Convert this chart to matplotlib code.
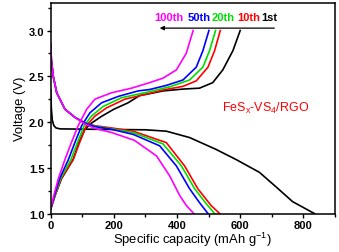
import matplotlib
matplotlib.use("Agg")
import matplotlib.pyplot as plt
from matplotlib.ticker import MultipleLocator

plt.rcParams["font.family"] = ["Liberation Sans", "DejaVu Sans"]
plt.rcParams["mathtext.fontset"] = "custom"
plt.rcParams["mathtext.rm"] = "Liberation Sans"

# ── data ─────────────────────────────────────────────────────────────────────
# discharge branches
dis_1st_x   = [0, 2, 5, 10, 17, 30, 156, 300, 366, 440, 524, 587, 661, 714, 766, 835]
dis_1st_v   = [2.35, 2.15, 2.02, 1.96, 1.935, 1.925, 1.92, 1.915, 1.90, 1.83, 1.70, 1.59, 1.45, 1.29, 1.13, 1.0]
dis_10_x    = [0, 2, 8, 19, 45, 77, 108, 140, 193, 261, 366, 424, 466, 508, 535]
dis_10_v    = [2.85, 2.68, 2.5, 2.32, 2.14, 2.05, 1.99, 1.96, 1.935, 1.90, 1.775, 1.52, 1.27, 1.087, 1.0]
dis_20_x    = [0, 2, 8, 19, 45, 77, 108, 140, 193, 261, 356, 414, 456, 493, 519]
dis_20_v    = [2.85, 2.68, 2.5, 2.32, 2.14, 2.05, 1.99, 1.955, 1.925, 1.885, 1.76, 1.52, 1.27, 1.105, 1.0]
dis_50_x    = [0, 2, 8, 19, 45, 77, 108, 140, 193, 261, 345, 398, 440, 471, 498]
dis_50_v    = [2.85, 2.68, 2.5, 2.32, 2.14, 2.05, 1.99, 1.95, 1.92, 1.865, 1.74, 1.52, 1.27, 1.12, 1.0]
dis_100_x   = [0, 2, 8, 19, 45, 77, 108, 140, 193, 265, 335, 377, 408, 429, 453]
dis_100_v   = [2.85, 2.68, 2.5, 2.32, 2.14, 2.05, 1.98, 1.93, 1.885, 1.80, 1.63, 1.41, 1.20, 1.09, 1.0]

# charge branches
chg_1st_x   = [0, 14, 34, 71, 90, 108, 130, 160, 200, 245, 282, 313, 356, 419, 471, 513, 545, 577, 600]
chg_1st_v   = [1.05, 1.2, 1.38, 1.59, 1.78, 1.92, 1.99, 2.06, 2.14, 2.21, 2.29, 2.31, 2.34, 2.36, 2.37, 2.43, 2.57, 2.78, 3.0]
chg_10_x    = [0, 14, 33, 71, 92, 113, 140, 177, 235, 298, 356, 419, 461, 498, 519, 537]
chg_10_v    = [1.05, 1.2, 1.38, 1.59, 1.78, 1.96, 2.065, 2.155, 2.25, 2.30, 2.35, 2.39, 2.45, 2.60, 2.78, 3.0]
chg_20_x    = [0, 13, 31, 64, 85, 106, 129, 166, 224, 298, 377, 440, 482, 503, 522]
chg_20_v    = [1.05, 1.2, 1.38, 1.59, 1.78, 1.96, 2.065, 2.17, 2.265, 2.32, 2.385, 2.46, 2.60, 2.78, 3.0]
chg_50_x    = [0, 12, 28, 56, 77, 98, 124, 161, 214, 277, 313, 366, 419, 461, 482, 501]
chg_50_v    = [1.05, 1.2, 1.38, 1.59, 1.78, 1.96, 2.10, 2.21, 2.28, 2.34, 2.355, 2.40, 2.46, 2.60, 2.78, 3.0]
chg_100_x   = [0, 10, 24, 45, 66, 87, 114, 140, 193, 256, 313, 356, 398, 429, 451]
chg_100_v   = [1.05, 1.2, 1.38, 1.59, 1.78, 1.96, 2.14, 2.25, 2.32, 2.37, 2.43, 2.48, 2.57, 2.75, 3.0]

cycle_labels = ["100th", "50th", "20th", "10th", "1st"]
cycle_colors = ["#ff00ff", "#0000ff", "#00dd00", "#ff0000", "#000000"]
label_x      = [329, 433, 508, 590, 668]

# ── plot ─────────────────────────────────────────────────────────────────────
fig = plt.figure(figsize=(3.39, 2.53), dpi=100)
ax = fig.add_axes([0.1496, 0.152, 0.8384, 0.832])

curves = [
    (dis_1st_x, dis_1st_v, chg_1st_x, chg_1st_v, "#000000"),
    (dis_10_x, dis_10_v, chg_10_x, chg_10_v, "#ff0000"),
    (dis_20_x, dis_20_v, chg_20_x, chg_20_v, "#00dd00"),
    (dis_50_x, dis_50_v, chg_50_x, chg_50_v, "#0000ff"),
    (dis_100_x, dis_100_v, chg_100_x, chg_100_v, "#ff00ff"),
]
for dx, dv, cx, cv, col in curves:
    ax.plot(dx, dv, color=col, lw=1.2, solid_joinstyle="round")
    ax.plot(cx, cv, color=col, lw=1.2, solid_joinstyle="round")

ax.set_xlim(0, 900)
ax.set_ylim(1.0, 3.3)
ax.xaxis.set_major_locator(MultipleLocator(200))
ax.xaxis.set_minor_locator(MultipleLocator(100))
ax.yaxis.set_major_locator(MultipleLocator(0.5))
ax.yaxis.set_minor_locator(MultipleLocator(0.25))
ax.tick_params(which="both", direction="out", top=False, right=False,
               labelsize=8, pad=1.5)
ax.tick_params(which="major", length=3, width=1.0)
ax.tick_params(which="minor", length=2, width=1.0)
for lab in ax.get_xticklabels() + ax.get_yticklabels():
    lab.set_fontweight("bold")
ax.yaxis.set_major_formatter(matplotlib.ticker.FormatStrFormatter("%.1f"))
for sp in ax.spines.values():
    sp.set_linewidth(1.1)

ax.set_xlabel("Specific capacity (mAh g$^{\\mathregular{-1}}$)", fontsize=9.4, labelpad=0)
ax.set_ylabel("Voltage (V)", fontsize=9.4, labelpad=2)

for txt, col, lx in zip(cycle_labels, cycle_colors, label_x):
    ax.text(lx, 3.15, txt, color=col, fontsize=8, fontweight="bold",
            ha="left", va="center")
ax.annotate("", xy=(345, 3.026), xytext=(708, 3.026),
            arrowprops=dict(arrowstyle="-|>", color="black", lw=0.9,
                            mutation_scale=6, shrinkA=0, shrinkB=0))

ax.text(543, 2.16, "FeS$_\\mathregular{x}$-VS$_\\mathregular{4}$/RGO", color="#ff0000",
        fontsize=9, ha="left", va="center")

fig.savefig("out.png", dpi=100)
